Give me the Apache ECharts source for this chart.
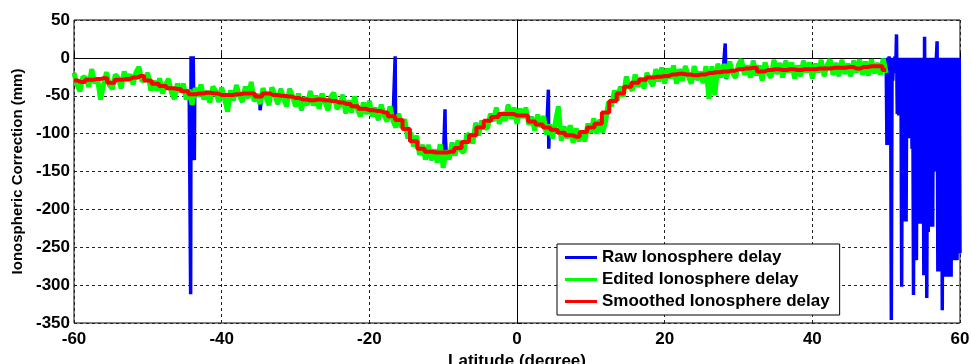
<!DOCTYPE html>
<html>
<head>
<meta charset="utf-8">
<script src="https://cdn.jsdelivr.net/npm/echarts@6/dist/echarts.min.js"></script>
<style>
  html, body { margin: 0; padding: 0; background: #fff; }
  #chart { width: 971px; height: 364px; }
</style>
</head>
<body>
<div id="chart"></div>
<script>
// edited delay (mm), one value every 0.4 deg from -60 to 50
const editedStart = -60;
const editedStep = 0.4;
const editedDelay = [
    -20, -35, -44, -25, -27, -38, -15, -33, -29, -55,
    -35, -19, -36, -41, -22, -27, -40, -18, -31, -22,
    -35, -19, -12, -31, -29, -20, -43, -30, -43, -27,
    -47, -35, -28, -46, -54, -34, -45, -34, -55, -42,
    -62, -40, -51, -35, -55, -44, -59, -38, -44, -58,
    -39, -54, -71, -43, -56, -36, -50, -58, -38, -53,
    -32, -57, -48, -61, -40, -52, -62, -39, -49, -61,
    -41, -54, -64, -41, -51, -64, -47, -69, -52, -62,
    -44, -63, -50, -67, -47, -58, -69, -51, -46, -67,
    -63, -49, -73, -56, -72, -51, -68, -77, -59, -74,
    -57, -77, -66, -82, -62, -75, -84, -64, -83, -92,
    -74, -92, -81, -106, -99, -117, -103, -128, -115, -134,
    -115, -135, -121, -138, -114, -145, -122, -134, -112, -129,
    -109, -122, -125, -101, -102, -113, -86, -102, -83, -92,
    -93, -74, -83, -66, -87, -72, -83, -62, -80, -66,
    -87, -67, -79, -66, -88, -78, -96, -75, -91, -77,
    -101, -88, -106, -85, -64, -109, -91, -106, -89, -112,
    -93, -110, -97, -110, -87, -99, -80, -100, -82, -98,
    -84, -58, -64, -43, -56, -38, -51, -25, -37, -43,
    -22, -38, -26, -40, -20, -30, -37, -15, -31, -13,
    -34, -14, -27, -10, -34, -15, -30, -11, -24, -34,
    -11, -29, -18, -33, -11, -54, -11, -49, -8, -26,
    -8, -27, -5, -20, -26, -9, -2, -22, -10, -26,
    -4, -23, -10, -30, -6, -20, -26, -3, -21, -7,
    -26, -4, -19, -6, -27, -10, -24, -4, -19, -6,
    -27, -8, -19, -3, -24, -10, -2, -22, -7, -24,
    -3, -21, -8, -24, -4, -19, -2, -22, -5, -23,
    -2, -20, -7, -22, -1, -20
];

// smoothed delay (mm), one value per degree from -60 to 50
const smoothStart = -60;
const smoothedDelay = [
    -30, -32, -29, -28, -27, -33, -29, -28, -26, -24,
    -30, -34, -37, -40, -41, -44, -48, -47, -46, -47,
    -49, -49, -48, -47, -47, -51, -47, -49, -50, -51,
    -53, -55, -56, -55, -56, -57, -59, -61, -64, -67,
    -69, -70, -72, -77, -82, -94, -110, -120, -124, -125,
    -125, -124, -119, -111, -102, -92, -83, -78, -74, -74,
    -76, -76, -84, -88, -92, -95, -99, -102, -104, -98,
    -92, -87, -72, -57, -47, -38, -33, -29, -26, -25,
    -24, -22, -21, -22, -23, -22, -20, -19, -18, -17,
    -15, -14, -13, -18, -16, -15, -16, -15, -16, -15,
    -15, -14, -14, -13, -13, -12, -14, -12, -11, -11,
    -16
];

// raw outliers [lat, mm] that editing removed
const rawSpikes = [
    [-44.2, -312], [-44.15, 2], [-43.95, -132], [-43.85, 2], [-43.7, -135], [-43.65, -50],
    [-34.8, -69], [-28.2, -62],
    [-16.5, 2], [-16.45, -80],
    [-9.75, -68], [-9.7, -105],
    [4.25, -42], [4.3, -120],
    [28.2, 19], [28.3, -28]
];
// raw delay (mm) beyond 50 deg, one value every 0.1 deg up to 60
const tailStart = 50;
const tailStep = 0.1;
const rawTail = [
    0, -115, 0, -110, 2, -115, 0, -346, 0, -30,
    0, -20, 2, -15, 31, -74, 0, -76, 0, -74,
    0, -302, 0, -216, 0, -210, 0, -216, 0, -25,
    0, -106, 0, -104, 0, -120, 0, -313, 0, -258,
    0, -267, 0, -219, 0, -215, 0, -219, 0, -60,
    0, -287, 28, -140, 0, -317, 0, -230, 0, -223,
    0, -140, 0, -223, 0, -150, 0, -30, 0, 22,
    -282, 0, -270, 0, -282, 0, -333, 0, -40, 0,
    -289, 0, -260, 0, -289, 0, -275, 0, -289, 0,
    -260, 0, -267, 0, -258, 0, -267, 0, -250, 0,
    -258
];

const editedPts = editedDelay.map((v, i) => [+(editedStart + i * editedStep).toFixed(2), v]);
const smoothPts = smoothedDelay.map((v, i) => [smoothStart + i, v]);
const tailPts = rawTail.map((v, i) => [+(tailStart + i * tailStep).toFixed(2), v]);
const rawPts = editedPts.concat(rawSpikes).sort((a, b) => a[0] - b[0]).concat(tailPts);

const font = 'Liberation Sans, Arial, sans-serif';
const chart = echarts.init(document.getElementById('chart'));
chart.setOption({
    animation: false,
    grid: {
        left: 74, right: 11, top: 20, bottom: 41,
        outerBoundsMode: 'none',
        show: true, borderColor: '#000', borderWidth: 1
    },
    legend: {
        orient: 'vertical',
        left: 557, top: 244,
        padding: [5, 10, 5, 8],
        itemGap: 5,
        itemWidth: 32, itemHeight: 3,
        icon: 'rect',
        backgroundColor: '#fff',
        borderColor: '#000', borderWidth: 1,
        textStyle: { fontFamily: font, fontWeight: 'bold', fontSize: 17, color: '#000' },
        data: ['Raw Ionosphere delay', 'Edited Ionosphere delay', 'Smoothed Ionosphere delay']
    },
    xAxis: {
        type: 'value', min: -60, max: 60, interval: 20,
        name: 'Latitude (degree)', nameLocation: 'middle', nameGap: 27,
        nameTextStyle: { fontFamily: font, fontWeight: 'bold', fontSize: 17, color: '#000' },
        axisLine: { lineStyle: { color: '#000' } },
        axisTick: { inside: true, length: 5, lineStyle: { color: '#000' } },
        axisLabel: { fontFamily: font, fontWeight: 'bold', fontSize: 17, color: '#000', margin: 8 },
        splitLine: { lineStyle: { color: '#222', type: [3, 3] } }
    },
    yAxis: {
        type: 'value', min: -350, max: 50, interval: 50,
        name: 'Ionospheric Correction (mm)', nameLocation: 'middle', nameGap: 46,
        nameTextStyle: { fontFamily: font, fontWeight: 'bold', fontSize: 15, color: '#000' },
        axisLine: { lineStyle: { color: '#000' } },
        axisTick: { inside: true, length: 5, lineStyle: { color: '#000' } },
        axisLabel: { fontFamily: font, fontWeight: 'bold', fontSize: 17, color: '#000', margin: 4 },
        splitLine: { lineStyle: { color: '#222', type: [3, 3] } }
    },
    series: [
        {
            name: 'Raw Ionosphere delay', type: 'line', data: rawPts,
            showSymbol: false, color: '#0000ff',
            lineStyle: { width: 3.5, color: '#0000ff' }
        },
        {
            name: 'Edited Ionosphere delay', type: 'line', data: editedPts,
            showSymbol: false, color: '#00ff00',
            lineStyle: { width: 5, color: '#00ff00' }
        },
        {
            name: 'Smoothed Ionosphere delay', type: 'line', data: smoothPts,
            showSymbol: false, step: 'middle', color: '#ff0000',
            lineStyle: { width: 4, color: '#ff0000' }
        }
    ]
});
</script>
</body>
</html>
